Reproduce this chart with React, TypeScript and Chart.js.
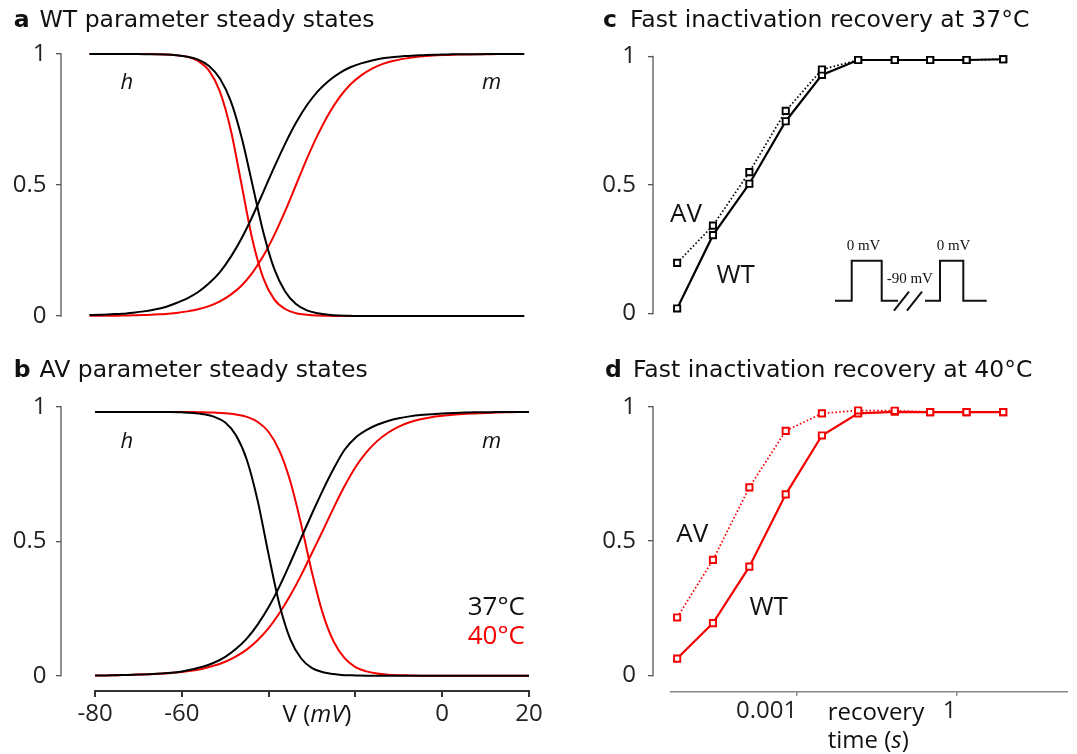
import React, { useEffect, useRef } from 'react';
import { Chart, registerables } from 'chart.js';

Chart.register(...registerables);

// ---------------- data ----------------
const voltage = [-80, -77.5, -75, -72.5, -70, -67.5, -65, -62.5, -60, -57.5, -55, -52.5, -50, -47.5, -45, -42.5, -40, -37.5, -35, -32.5, -30, -27.5, -25, -22.5, -20, -17.5, -15, -12.5, -10, -7.5, -5, -2.5, 0, 2.5, 5, 7.5, 10, 12.5, 15, 17.5, 20];

// panel a: WT parameters
const wtH37 = [1, 1, 1, 1, 1, 0.999, 0.999, 0.998, 0.995, 0.989, 0.978, 0.954, 0.906, 0.82, 0.681, 0.5, 0.319, 0.18, 0.094, 0.046, 0.022, 0.011, 0.005, 0.002, 0.001, 0, 0, 0, 0, 0, 0, 0, 0, 0, 0, 0, 0, 0, 0, 0, 0];
const wtH40 = [1, 1, 1, 1, 1, 1, 0.999, 0.998, 0.995, 0.989, 0.973, 0.936, 0.856, 0.71, 0.5, 0.29, 0.144, 0.064, 0.027, 0.011, 0.005, 0.002, 0.001, 0, 0, 0, 0, 0, 0, 0, 0, 0, 0, 0, 0, 0, 0, 0, 0, 0, 0];
const wtM37 = [0.004, 0.005, 0.007, 0.009, 0.013, 0.018, 0.025, 0.035, 0.05, 0.068, 0.092, 0.125, 0.168, 0.226, 0.297, 0.381, 0.474, 0.568, 0.657, 0.737, 0.804, 0.857, 0.897, 0.927, 0.949, 0.964, 0.975, 0.983, 0.988, 0.992, 0.994, 0.996, 0.997, 0.998, 0.999, 0.999, 0.999, 1, 1, 1, 1];
const wtM40 = [0.001, 0.001, 0.001, 0.002, 0.003, 0.004, 0.006, 0.008, 0.012, 0.018, 0.026, 0.038, 0.056, 0.082, 0.117, 0.166, 0.23, 0.309, 0.4, 0.5, 0.6, 0.691, 0.77, 0.834, 0.883, 0.918, 0.944, 0.962, 0.974, 0.982, 0.988, 0.992, 0.995, 0.996, 0.998, 0.998, 0.999, 0.999, 1, 1, 1];

// panel b: AV parameters
const avH37 = [0.98, 0.98, 0.98, 0.98, 0.98, 0.98, 0.98, 0.98, 0.979, 0.977, 0.972, 0.962, 0.941, 0.893, 0.801, 0.648, 0.449, 0.264, 0.135, 0.064, 0.028, 0.013, 0.006, 0.002, 0.001, 0, 0, 0, 0, 0, 0, 0, 0, 0, 0, 0, 0, 0, 0, 0, 0];
const avH40 = [0.98, 0.98, 0.98, 0.98, 0.98, 0.98, 0.98, 0.98, 0.98, 0.98, 0.979, 0.978, 0.976, 0.971, 0.962, 0.943, 0.906, 0.836, 0.722, 0.562, 0.383, 0.23, 0.126, 0.065, 0.032, 0.016, 0.008, 0.004, 0.002, 0.001, 0, 0, 0, 0, 0, 0, 0, 0, 0, 0, 0];
const avM37 = [0.001, 0.001, 0.002, 0.003, 0.004, 0.005, 0.008, 0.011, 0.016, 0.024, 0.034, 0.049, 0.07, 0.1, 0.139, 0.191, 0.255, 0.332, 0.42, 0.512, 0.603, 0.69, 0.77, 0.84, 0.885, 0.913, 0.933, 0.947, 0.957, 0.964, 0.969, 0.972, 0.975, 0.977, 0.978, 0.979, 0.979, 0.98, 0.98, 0.98, 0.98];
const avM40 = [0.001, 0.001, 0.002, 0.003, 0.004, 0.005, 0.007, 0.01, 0.014, 0.019, 0.027, 0.038, 0.052, 0.072, 0.098, 0.133, 0.177, 0.233, 0.299, 0.374, 0.457, 0.54, 0.625, 0.705, 0.775, 0.83, 0.872, 0.903, 0.926, 0.942, 0.953, 0.961, 0.966, 0.97, 0.973, 0.975, 0.977, 0.978, 0.979, 0.98, 0.98];

// panels c, d: recovery from fast inactivation
const recoveryTime = [5.5e-6, 2.6e-5, 1.26e-4, 6.1e-4, 2.93e-3, 0.0141, 0.069, 0.32, 1.55, 7.6];
const wtRecovery37 = [0.02, 0.305, 0.505, 0.748, 0.928, 0.986, 0.986, 0.986, 0.986, 0.989];
const avRecovery37 = [0.197, 0.342, 0.55, 0.788, 0.949, 0.986, 0.986, 0.986, 0.986, 0.989];
const wtRecovery40 = [0.063, 0.195, 0.405, 0.674, 0.893, 0.975, 0.981, 0.98, 0.98, 0.98];
const avRecovery40 = [0.216, 0.43, 0.7, 0.91, 0.975, 0.986, 0.985, 0.98, 0.98, 0.98];

// ticks
const fractionTicks = [0, 0.5, 1];
const voltageTicks = [-80, -60, -40, -20, 0, 20];
const voltageTickLabels = ['-80', '-60', '', '', '0', '20'];
const timeTicks = [0.001, 1];
const timeTickLabels = ['0.001', '1'];

// ---------------- styles ----------------
const W = 1077;
const H = 754;
const BLACK = '#000000';
const RED = '#f40000';
const TICK_FONT = "'Open Sans', sans-serif";

const xy = (xs: number[], ys: number[]) => xs.map((x, i) => ({ x, y: ys[i] }));

function linRange(v1: number, p1: number, v2: number, p2: number, left: number, right: number) {
  const k = (v2 - v1) / (p2 - p1);
  return { min: v1 + (left - p1) * k, max: v1 + (right - p1) * k };
}
function logRange(v1: number, p1: number, v2: number, p2: number, left: number, right: number) {
  const r = linRange(Math.log10(v1), p1, Math.log10(v2), p2, left, right);
  return { min: Math.pow(10, r.min), max: Math.pow(10, r.max) };
}

const axisPlugin = {
  id: 'axisLines',
  afterDraw(chart: any, _args: any, o: any) {
    const { ctx } = chart;
    const ys = chart.scales.y;
    const xs = chart.scales.x;
    ctx.save();
    ctx.lineCap = 'butt';
    if (o.bracket) {
      ctx.strokeStyle = '#555';
      ctx.lineWidth = 1.3;
      ctx.beginPath();
      ctx.moveTo(ys.right, ys.getPixelForValue(0) + 0.65);
      ctx.lineTo(ys.right, ys.getPixelForValue(1) - 0.65);
      ctx.stroke();
    }
    if (o.xColor) {
      let x1: number;
      let x2: number;
      if (o.xPx) {
        x1 = o.xPx[0];
        x2 = o.xPx[1];
      } else {
        x1 = xs.getPixelForValue(o.xFrom) - 1;
        x2 = xs.getPixelForValue(o.xTo) + 1;
      }
      ctx.strokeStyle = o.xColor;
      ctx.lineWidth = o.xWidth;
      ctx.beginPath();
      ctx.moveTo(x1, xs.top);
      ctx.lineTo(x2, xs.top);
      ctx.stroke();
    }
    ctx.restore();
  },
};

const yScale = (min: number, width: number, pad: number) => ({
  type: 'linear',
  min,
  max: 1,
  afterFit: (s: any) => {
    s.width = width;
  },
  afterBuildTicks: (s: any) => {
    s.ticks = fractionTicks.map((value) => ({ value }));
  },
  border: { display: false },
  grid: { drawOnChartArea: false, drawTicks: true, tickLength: 5, color: '#555', lineWidth: 1.3 },
  ticks: { padding: pad, color: '#222', font: { family: TICK_FONT, size: 24 }, callback: (v: any) => String(v) },
});

const curve = (data: any, color: string) => ({
  data,
  borderColor: color,
  borderWidth: 2,
  pointRadius: 0,
  cubicInterpolationMode: 'monotone',
  fill: false,
  clip: 6,
});

const recovery = (data: any, color: string, dotted: boolean) => ({
  data,
  borderColor: color,
  borderWidth: dotted ? 1.7 : 2.2,
  borderDash: dotted ? [1.6, 2.2] : [],
  pointStyle: 'rect',
  pointRadius: 4.4,
  pointBorderWidth: 1.9,
  pointBorderColor: color,
  pointBackgroundColor: '#ffffff',
  fill: false,
  clip: 8,
});

function makeConfig(p: any) {
  return {
    type: 'line',
    data: { datasets: p.datasets },
    options: {
      responsive: false,
      animation: false,
      events: [],
      layout: { padding: p.padding },
      plugins: { legend: { display: false }, tooltip: { enabled: false }, axisLines: p.axis },
      scales: { x: p.x, y: p.y },
    },
    plugins: [axisPlugin],
  };
}

// panel geometry (page pixels)
const A = { left: 0, top: 30, w: 540, h: 310 };
const B = { left: 0, top: 380, w: 560, h: 374 };
const C = { left: 540, top: 30, w: 537, h: 310 };
const D = { left: 540, top: 380, w: 537, h: 374 };

function configA() {
  const xr = linRange(-80, 89.5, 20, 524.2, 61, 530);
  return makeConfig({
    datasets: [curve(xy(voltage, wtH37), BLACK), curve(xy(voltage, wtM37), BLACK), curve(xy(voltage, wtH40), RED), curve(xy(voltage, wtM40), RED)],
    padding: { top: 52.7 - A.top, bottom: A.top + A.h - 322, left: 0, right: 10 },
    axis: { bracket: true },
    x: { type: 'linear', display: false, min: xr.min, max: xr.max },
    y: yScale(0, 61, 9.5),
  });
}

function configB() {
  const xr = linRange(-80, 95.1, 20, 529, 61, 534);
  const yMin = -(691 - 675.7) / (675.7 - 406.7);
  return makeConfig({
    datasets: [curve(xy(voltage, avH37), BLACK), curve(xy(voltage, avM37), BLACK), curve(xy(voltage, avH40), RED), curve(xy(voltage, avM40), RED)],
    padding: { top: 406.7 - B.top, bottom: 0, left: 0, right: B.w - 534 },
    axis: { bracket: true, xFrom: -80, xTo: 20, xColor: '#333', xWidth: 2 },
    x: {
      type: 'linear',
      min: xr.min,
      max: xr.max,
      afterFit: (s: any) => {
        s.height = B.top + B.h - 691;
        s.paddingLeft = 0;
        s.paddingRight = 0;
      },
      afterBuildTicks: (s: any) => {
        s.ticks = voltageTicks.map((value) => ({ value }));
      },
      border: { display: false },
      grid: { drawOnChartArea: false, drawTicks: true, tickLength: 6, color: '#333', lineWidth: 2 },
      ticks: { padding: 3, color: '#222', maxRotation: 0, autoSkip: false, font: { family: TICK_FONT, size: 24 }, callback: (_v: any, i: number) => voltageTickLabels[i] },
    },
    y: yScale(yMin, 61, 9.5),
  });
}

function configC() {
  const xr = logRange(0.001, 799.3, 1, 961, 653, 1077);
  return makeConfig({
    datasets: [recovery(xy(recoveryTime, avRecovery37), BLACK, true), recovery(xy(recoveryTime, wtRecovery37), BLACK, false)],
    padding: { top: 52.7 - C.top, bottom: C.top + C.h - 322, left: 0, right: 0 },
    axis: { bracket: true },
    x: { type: 'logarithmic', display: false, min: xr.min, max: xr.max },
    y: yScale(0, 653 - C.left, 12),
  });
}

function configD() {
  const xr = logRange(0.001, 799.3, 1, 961, 653, 1077);
  const yMin = -(691.7 - 675.5) / (675.5 - 406.7);
  return makeConfig({
    datasets: [recovery(xy(recoveryTime, avRecovery40), RED, true), recovery(xy(recoveryTime, wtRecovery40), RED, false)],
    padding: { top: 406.7 - D.top, bottom: 0, left: 0, right: 0 },
    axis: { bracket: true, xPx: [670 - D.left, 1068 - D.left], xColor: '#888', xWidth: 1.6 },
    x: {
      type: 'logarithmic',
      min: xr.min,
      max: xr.max,
      afterFit: (s: any) => {
        s.height = D.top + D.h - 691.7;
        s.paddingLeft = 0;
        s.paddingRight = 0;
      },
      afterBuildTicks: (s: any) => {
        s.ticks = timeTicks.map((value) => ({ value }));
      },
      border: { display: false },
      grid: { drawOnChartArea: false, drawTicks: true, tickLength: 4, color: '#888', lineWidth: 1.5 },
      ticks: { padding: 1, align: 'end', color: '#222', maxRotation: 0, autoSkip: false, font: { family: TICK_FONT, size: 24 }, callback: (_v: any, i: number) => timeTickLabels[i] },
    },
    y: yScale(yMin, 653 - D.left, 12),
  });
}

function Panel({ g, make }: { g: { left: number; top: number; w: number; h: number }; make: () => any }) {
  const ref = useRef<HTMLCanvasElement | null>(null);
  useEffect(() => {
    const chart = new Chart(ref.current as HTMLCanvasElement, make());
    return () => chart.destroy();
  }, []);
  return <canvas ref={ref} width={g.w} height={g.h} style={{ position: 'absolute', left: g.left, top: g.top, width: g.w, height: g.h }} />;
}

const FONTS: Record<string, [string, number]> = {
  dv: ["'DejaVu Sans', sans-serif", 0.846],
  os: ["'Open Sans', sans-serif", 0.888],
  serif: ["'Liberation Serif', serif", 0.8375],
};

function Label(props: { x: number; y: number; size: number; font: string; color?: string; bold?: boolean; italic?: boolean; align?: string; children: React.ReactNode }) {
  const { x, y, size, font, color = '#111', bold, italic, align = 'left', children } = props;
  const [family, k] = FONTS[font];
  const style: any = {
    position: 'absolute',
    top: y - k * size,
    fontFamily: family,
    fontSize: size,
    lineHeight: 1,
    whiteSpace: 'nowrap',
    color,
    fontWeight: bold ? 700 : 400,
    fontStyle: italic ? 'italic' : 'normal',
  };
  if (align === 'right') style.right = W - x;
  else if (align === 'center') {
    style.left = x;
    style.transform = 'translateX(-50%)';
  } else style.left = x;
  return <div style={style}>{children}</div>;
}

export default function App() {
  useEffect(() => {
    document.body.style.margin = '0';
  }, []);
  const T = 23.5;
  return (
    <div style={{ position: 'absolute', left: 0, top: 0, width: W, height: H, background: '#fff', overflow: 'hidden' }}>
      <Panel g={A} make={configA} />
      <Panel g={B} make={configB} />
      <Panel g={C} make={configC} />
      <Panel g={D} make={configD} />

      <Label x={13.8} y={28.3} size={T} font="dv" bold>a</Label>
      <Label x={39.6} y={28.3} size={T} font="dv">WT parameter steady states</Label>
      <Label x={13.8} y={378.3} size={T} font="dv" bold>b</Label>
      <Label x={39.6} y={378.3} size={T} font="dv">AV parameter steady states</Label>
      <Label x={603} y={28.3} size={T} font="dv" bold>c</Label>
      <Label x={630} y={28.3} size={T} font="dv">Fast inactivation recovery at 37°C</Label>
      <Label x={605} y={378.3} size={T} font="dv" bold>d</Label>
      <Label x={633} y={378.3} size={T} font="dv">Fast inactivation recovery at 40°C</Label>

      <Label x={120.5} y={88.3} size={22} font="os" italic>h</Label>
      <Label x={482} y={88.3} size={22} font="os" italic>m</Label>
      <Label x={120.5} y={447.7} size={22} font="os" italic>h</Label>
      <Label x={482} y={447.7} size={22} font="os" italic>m</Label>
      <Label x={525} y={615} size={26} font="os" align="right">37°C</Label>
      <Label x={525} y={644} size={26} font="os" align="right" color={RED}>40°C</Label>
      <Label x={317} y={722.6} size={24} font="os" align="center">
        V (<i>mV</i>)
      </Label>

      <Label x={670} y={221.7} size={26} font="os">AV</Label>
      <Label x={716.4} y={283.3} size={26} font="os">WT</Label>
      <Label x={676.3} y={541.7} size={26} font="os">AV</Label>
      <Label x={749.6} y={615} size={26} font="os">WT</Label>
      <Label x={827.7} y={720.4} size={24} font="os">recovery</Label>
      <Label x={827.7} y={748.5} size={24} font="os">
        time (<i>s</i>)
      </Label>

      <svg width={W} height={H} style={{ position: 'absolute', left: 0, top: 0, pointerEvents: 'none' }}>
        <g fill="none" stroke="#111" strokeWidth={2}>
          <polyline points="835,300.7 851.7,300.7 851.7,260.7 881.7,260.7 881.7,300.7 898,300.7" />
          <line x1={894} y1={310.7} x2={909} y2={291.7} />
          <line x1={907} y1={310.7} x2={922} y2={291.7} />
          <polyline points="925,300.7 940,300.7 940,260.7 963.3,260.7 963.3,300.7 986.7,300.7" />
        </g>
      </svg>
      <Label x={846.7} y={251} size={15} font="serif">0 mV</Label>
      <Label x={936.7} y={250.5} size={15} font="serif">0 mV</Label>
      <Label x={886.7} y={283.6} size={15} font="serif">-90 mV</Label>
    </div>
  );
}
